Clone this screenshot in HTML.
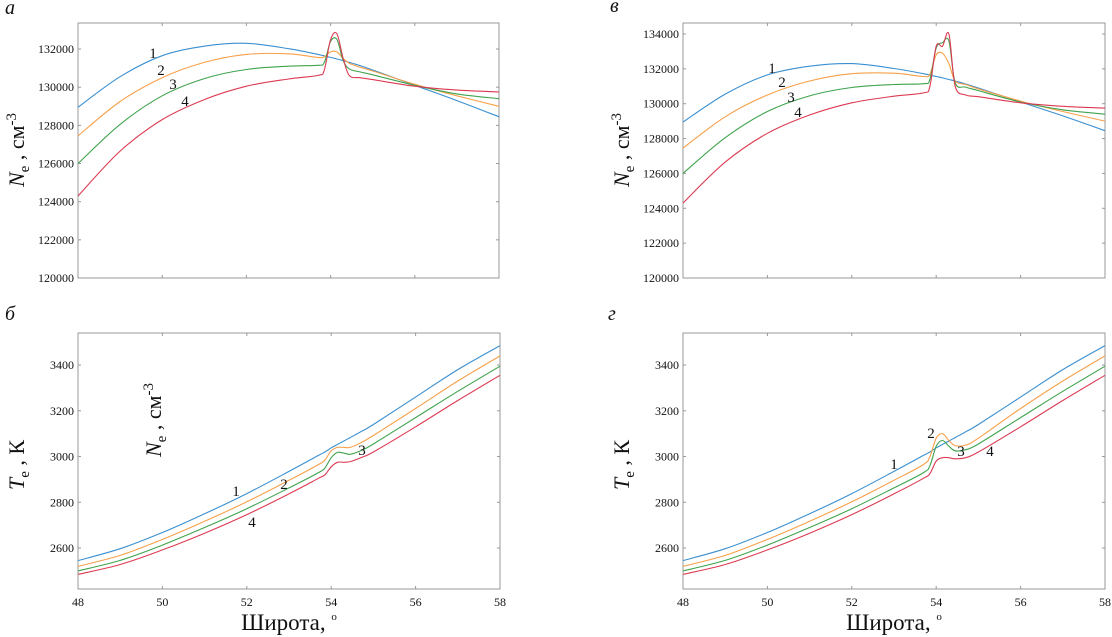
<!DOCTYPE html>
<html><head><meta charset="utf-8">
<style>
html,body{margin:0;padding:0;background:#fff;}
svg{display:block;font-family:"Liberation Serif",serif;}
svg text{font-family:"Liberation Serif",serif;}
</style></head>
<body>
<svg id="chart" width="1112" height="637" viewBox="0 0 1112 637" xmlns="http://www.w3.org/2000/svg"></svg>
<script>
const lats = [48,49,50,51,52,53,53.7,53.85,54.0,54.15,54.3,54.45,54.7,55,56,57,58];
const xTicks = [48,50,52,54,56,58];
const neTicksA = [120000,122000,124000,126000,128000,130000,132000];
const neTicksB = [120000,122000,124000,126000,128000,130000,132000,134000];
const teTicks = [2600,2800,3000,3200,3400];

const neA1 = [128950,130550,131650,132150,132300,132020,131720,131640,131560,131480,131390,131300,131130,130900,130100,129300,128450];
const neA2 = [127450,129250,130500,131300,131720,131750,131560,131600,131850,131850,131500,131250,131050,130850,130150,129550,129000];
const neA3 = [126000,128050,129550,130450,130930,131100,131150,131300,132400,132500,131400,130950,130800,130650,130100,129650,129400];
const neA4 = [124300,126650,128300,129350,130050,130430,130620,130900,132500,132800,131500,130600,130500,130400,130050,129850,129750];

const neV1 = [128950,130550,131650,132150,132300,132020,131720,131640,131560,131480,131390,131300,131130,130900,130100,129300,128450];
const neV2 = [127450,129250,130500,131300,131720,131750,131560,131700,132800,132900,132300,131300,131100,130850,130150,129550,129000];
const neV3 = [126000,128050,129550,130450,130930,131100,131150,131400,133200,133500,133600,131200,130950,130750,130100,129650,129400];
const neV4 = [124300,126650,128300,129350,130050,130430,130620,131000,133300,133300,134000,131000,130500,130400,130050,129850,129750];

const teB1 = [2545,2597,2668,2750,2838,2935,3005,3020,3038,3053,3068,3083,3108,3140,3260,3380,3485];
const teB2 = [2520,2568,2638,2717,2802,2896,2965,2985,3025,3040,3040,3040,3060,3092,3210,3330,3440];
const teB3 = [2500,2546,2613,2690,2772,2863,2930,2950,2995,3018,3015,3010,3025,3055,3170,3285,3395];
const teB4 = [2485,2528,2592,2665,2746,2837,2905,2920,2955,2975,2975,2978,2995,3020,3130,3245,3355];

const teG1 = [2545,2597,2668,2750,2838,2935,3005,3020,3038,3053,3068,3083,3108,3140,3260,3380,3485];
const teG2 = [2520,2568,2638,2717,2802,2896,2965,3000,3080,3100,3070,3048,3050,3080,3210,3330,3440];
const teG3 = [2500,2546,2613,2690,2772,2863,2930,2960,3045,3070,3045,3025,3030,3055,3170,3285,3395];
const teG4 = [2485,2528,2592,2665,2746,2837,2905,2925,2980,2995,2995,2990,2995,3020,3130,3245,3355];

const colors = ['#3a8fd0','#f7a04a','#3fa34d','#dc3a52'];
const FONT = '"Liberation Serif", serif';
const svg = document.getElementById('chart');
const NS = 'http://www.w3.org/2000/svg';
function mk(tag, attrs, parent){
  const e = document.createElementNS(NS, tag);
  for (const k in attrs) e.setAttribute(k, attrs[k]);
  (parent||svg).appendChild(e); return e;
}
function txt(s, x, y, size, parent, anchor, extra){
  const t = mk('text', Object.assign({x:x, y:y, 'font-size':size, 'font-family':FONT, fill:'#111', 'text-anchor':anchor||'middle'}, extra||{}), parent);
  t.textContent = s; return t;
}
function smoothPath(pts){
  let d = 'M'+pts[0][0].toFixed(1)+','+pts[0][1].toFixed(1);
  for (let i=0;i<pts.length-1;i++){
    const p0=pts[Math.max(0,i-1)], p1=pts[i], p2=pts[i+1], p3=pts[Math.min(pts.length-1,i+2)];
    const c1=[p1[0]+(p2[0]-p0[0])/6, p1[1]+(p2[1]-p0[1])/6];
    const c2=[p2[0]-(p3[0]-p1[0])/6, p2[1]-(p3[1]-p1[1])/6];
    d += ' C'+c1[0].toFixed(1)+','+c1[1].toFixed(1)+' '+c2[0].toFixed(1)+','+c2[1].toFixed(1)+' '+p2[0].toFixed(1)+','+p2[1].toFixed(1);
  }
  return d;
}
function panel(cfg){
  const g = mk('g', {});
  
  
  const xs = v => cfg.x0 + (v-48)/(58-48)*(cfg.x1-cfg.x0);
  const ys = v => cfg.y1 - (v-cfg.ymin)/(cfg.ymax-cfg.ymin)*(cfg.y1-cfg.y0);
  const frame = mk('rect', {x:cfg.x0, y:cfg.y0, width:cfg.x1-cfg.x0, height:cfg.y1-cfg.y0, fill:'none', stroke:'#999', 'stroke-width':1}, g);
  
  
  xTicks.forEach(v=>{
    const x = xs(v);
    mk('line',{x1:x,x2:x,y1:cfg.y1,y2:cfg.y1-3,stroke:'#999'},g);
    mk('line',{x1:x,x2:x,y1:cfg.y0,y2:cfg.y0+3,stroke:'#999'},g);
    if (cfg.showX){
      const t = txt(String(v), x, cfg.y1+17, 12, g);
      
      
    }
  });
  cfg.yTicks.forEach(v=>{
    const y = ys(v);
    mk('line',{x1:cfg.x0,x2:cfg.x0+3,y1:y,y2:y,stroke:'#999'},g);
    mk('line',{x1:cfg.x1,x2:cfg.x1-3,y1:y,y2:y,stroke:'#999'},g);
    const t = txt(String(v), cfg.x0-4, y+4, 12, g, 'end');
    
    
  });
  cfg.series.forEach((arr,i)=>{
    const pts = lats.map((l,j)=>[xs(l), ys(arr[j])]);
    const p = mk('path',{d:smoothPath(pts), fill:'none', stroke:colors[i], 'stroke-width':1.1}, g);
    
    
  });
  cfg.labels.forEach((l,i)=>{
    const t = txt(String(i+1), l[0], l[1], 15, g);
    
    
  });
  const lt = txt(cfg.letter, cfg.letterPos[0], cfg.letterPos[1], 20, g, 'start', {'font-style':'italic'});
  
  
  const yt = mk('text', {transform:'translate('+cfg.ytPos[0]+','+cfg.ytPos[1]+') rotate(-90)', 'font-size':22, 'font-family':FONT, 'text-anchor':'middle', fill:'#111'}, g);
  
  
  yt.innerHTML = cfg.ytitle;
  if (cfg.showX){
    const xt = mk('text', {x:(cfg.x0+cfg.x1)/2, y:cfg.y1+41, 'font-size':23, 'font-family':FONT, 'text-anchor':'middle', fill:'#111'}, g);
    
    
    xt.innerHTML = 'Широта, <tspan font-size="11" dy="-10">o</tspan>';
  }
  return g;
}
const neTitle = '<tspan font-style="italic">N</tspan><tspan font-size="15" dy="5">e</tspan><tspan dy="-5"> , см</tspan><tspan font-size="15" dy="-8">-3</tspan>';
const teTitle = '<tspan font-style="italic">T</tspan><tspan font-size="15" dy="5">e</tspan><tspan dy="-5"> , К</tspan>';

panel({name:'panel-a-ne', x0:78, x1:499, y0:23, y1:278, ymin:120000, ymax:133365, yTicks:neTicksA,
  series:[neA1,neA2,neA3,neA4], labels:[[153,58],[161,75],[173,89],[185,106]],
  letter:'а', letterPos:[5,14], ytitle:neTitle, ytPos:[24,150], showX:false});
panel({name:'panel-v-ne', x0:683, x1:1105, y0:23, y1:278, ymin:120000, ymax:134630, yTicks:neTicksB,
  series:[neV1,neV2,neV3,neV4], labels:[[772,73],[782,87],[791,102],[798,117]],
  letter:'в', letterPos:[610,12], ytitle:neTitle, ytPos:[629,150], showX:false});
panel({name:'panel-b-te', x0:78, x1:500, y0:333, y1:589, ymin:2421, ymax:3540, yTicks:teTicks,
  series:[teB1,teB2,teB3,teB4], labels:[[236,496],[284,489],[362,455],[252,527]],
  letter:'б', letterPos:[5,320], ytitle:teTitle, ytPos:[24,465], showX:true});
panel({name:'panel-g-te', x0:683, x1:1105, y0:333, y1:589, ymin:2421, ymax:3540, yTicks:teTicks,
  series:[teG1,teG2,teG3,teG4], labels:[[894,469],[931,438],[961,456],[990,456]],
  letter:'г', letterPos:[608,320], ytitle:teTitle, ytPos:[629,465], showX:true});

const stray = mk('text', {transform:'translate(161,420) rotate(-90)', 'font-size':22, 'font-family':FONT, 'text-anchor':'middle', fill:'#111'});


stray.innerHTML = neTitle;
</script>
</body></html>
